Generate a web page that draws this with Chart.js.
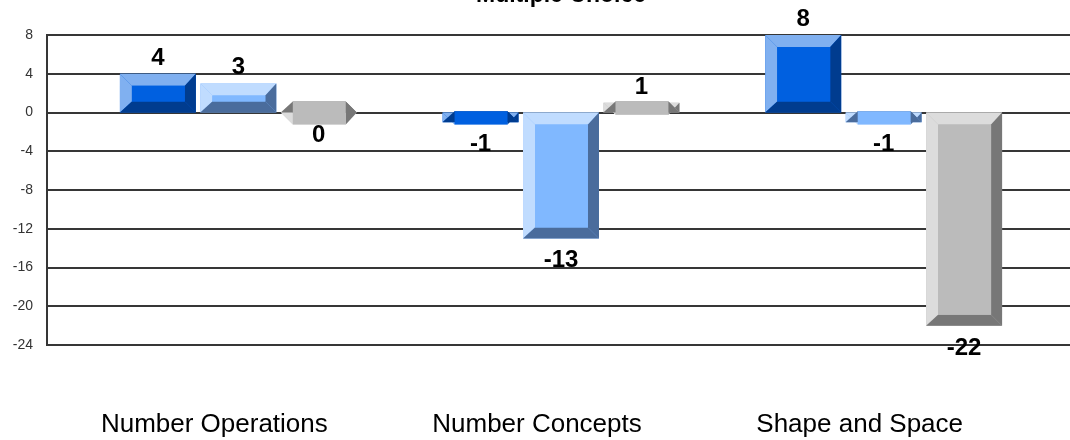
<!DOCTYPE html>
<html><head><meta charset="utf-8">
<script src="https://cdn.jsdelivr.net/npm/chart.js@4.4.1/dist/chart.umd.min.js"></script>
<style>
html,body{margin:0;padding:0;background:#fff;overflow:hidden;}
#wrap{position:relative;width:1070px;height:458px;margin-top:-18px;}
</style></head><body>
<div id="wrap"><canvas id="c"></canvas></div>
<script>
const categories = ['Number Operations', 'Number Concepts', 'Shape and Space'];
const series1 = [4, -1, 8];
const series2 = [3, -13, -1];
const series3 = [0, 1, -22];
const yTicks = [8, 4, 0, -4, -8, -12, -16, -20, -24];
const titleText = 'Multiple Choice';

const FONT = "'Liberation Sans', Arial, sans-serif";
const bevelStyles = [
  {light: '#80B0F0', face: '#0060E0', dark: '#003C8F'},
  {light: '#C0DCFF', face: '#80B8FF', dark: '#4A6C9C'},
  {light: '#DCDCDC', face: '#BBBBBB', dark: '#777777'}
];

function poly(ctx, pts, color) {
  ctx.beginPath();
  ctx.moveTo(pts[0][0], pts[0][1]);
  for (let i = 1; i < pts.length; i++) ctx.lineTo(pts[i][0], pts[i][1]);
  ctx.closePath();
  ctx.fillStyle = color;
  ctx.fill();
}

const gridPlugin = {
  id: 'extGrid',
  beforeDatasetsDraw(chart) {
    const ctx = chart.ctx, y = chart.scales.y, area = chart.chartArea;
    const left = area.left - 30, right = chart.width;
    ctx.save();
    ctx.strokeStyle = '#363636';
    ctx.lineWidth = 2;
    yTicks.forEach(v => {
      const py = Math.round(y.getPixelForValue(v));
      ctx.beginPath(); ctx.moveTo(left, py); ctx.lineTo(right, py); ctx.stroke();
    });
    const t = Math.round(y.getPixelForValue(yTicks[0]));
    const b = Math.round(y.getPixelForValue(yTicks[yTicks.length - 1]));
    ctx.beginPath(); ctx.moveTo(left, t - 1); ctx.lineTo(left, b + 1); ctx.stroke();
    ctx.restore();
  },
  afterDatasetsDraw(chart) {
    const ctx = chart.ctx;
    const bt = 12, bl = 12, br = 11, bb = 11;
    ctx.save();
    chart.data.datasets.forEach((ds, di) => {
      const st = bevelStyles[di];
      chart.getDatasetMeta(di).data.forEach(el => {
        const x0 = el.x - el.width / 2, x1 = el.x + el.width / 2;
        const y0 = Math.min(el.y, el.base), y1 = Math.max(el.y, el.base);
        const ix0 = x0 + bl, ix1 = x1 - br, iy0 = y0 + bt, iy1 = y1 - bb;
        poly(ctx, [[x0, y0], [x1, y0], [ix1, iy0], [ix0, iy0]], st.light);
        poly(ctx, [[x0, y0], [ix0, iy0], [ix0, iy1], [x0, y1]], st.light);
        poly(ctx, [[x0, y1], [x1, y1], [ix1, iy1], [ix0, iy1]], st.dark);
        poly(ctx, [[x1, y0], [x1, y1], [ix1, iy1], [ix1, iy0]], st.dark);
        poly(ctx, [[ix0, Math.min(iy0, iy1)], [ix1, Math.min(iy0, iy1)], [ix1, Math.max(iy0, iy1)], [ix0, Math.max(iy0, iy1)]], st.face);
      });
    });
    ctx.fillStyle = '#000';
    ctx.font = 'bold 24px ' + FONT;
    ctx.textAlign = 'center';
    ctx.textBaseline = 'alphabetic';
    chart.data.datasets.forEach((ds, di) => {
      chart.getDatasetMeta(di).data.forEach((el, i) => {
        const v = ds.data[i];
        const ty = v > 0 ? el.y - 9 : el.y + 12 + 17;
        ctx.fillText(String(v), el.x, ty);
      });
    });
    ctx.restore();
  }
};

new Chart(document.getElementById('c'), {
  type: 'bar',
  data: {
    labels: categories,
    datasets: [
      {label: 'Series 1', data: series1, backgroundColor: bevelStyles[0].face},
      {label: 'Series 2', data: series2, backgroundColor: bevelStyles[1].face},
      {label: 'Series 3', data: series3, backgroundColor: bevelStyles[2].face}
    ]
  },
  options: {
    responsive: true,
    maintainAspectRatio: false,
    animation: false,
    datasets: {bar: {barPercentage: 0.944, categoryPercentage: 0.748}},
    layout: {padding: {left: 0, right: 25, top: 0, bottom: 0}},
    plugins: {
      legend: {display: false},
      tooltip: {enabled: false},
      title: {
        display: true, text: titleText, fullSize: false, color: '#000',
        font: {family: FONT, size: 23, weight: 'bold'},
        padding: {top: 0, bottom: 25.4}
      }
    },
    scales: {
      x: {
        afterFit: s => { s.height = 95; },
        grid: {display: false, drawTicks: false},
        border: {display: false},
        ticks: {font: {family: FONT, size: 26}, color: '#000', padding: 64, labelOffset: -24, maxRotation: 0, autoSkip: false}
      },
      y: {
        min: -24, max: 8,
        afterBuildTicks: s => { s.ticks = yTicks.map(v => ({value: v})); },
        afterFit: s => { s.width = 77; },
        grid: {display: false, drawTicks: false},
        border: {display: false},
        ticks: {font: {family: FONT, size: 14}, color: '#333', padding: 44}
      }
    }
  },
  plugins: [gridPlugin]
});
</script>
</body></html>
